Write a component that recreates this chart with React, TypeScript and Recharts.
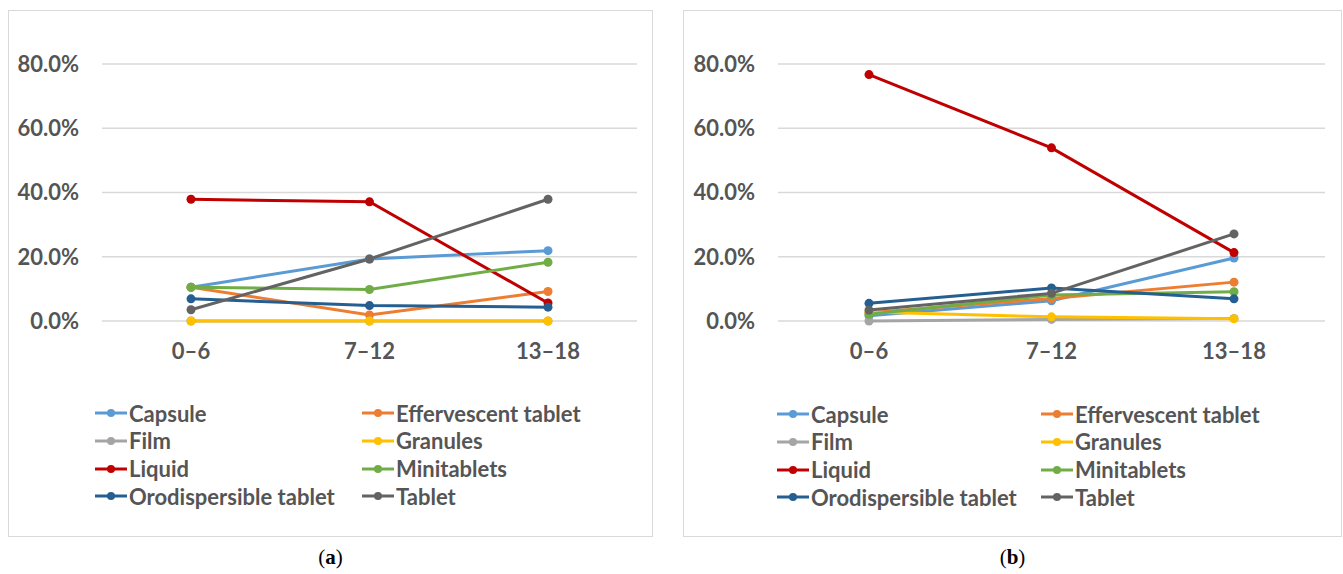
import React from 'react';
import { LineChart, Line, XAxis, YAxis, CartesianGrid } from 'recharts';

const categories = ['0–6', '7–12', '13–18'];
const yTicks = [0, 20, 40, 60, 80];

const seriesNames = [
  'Capsule',
  'Effervescent tablet',
  'Film',
  'Granules',
  'Liquid',
  'Minitablets',
  'Orodispersible tablet',
  'Tablet',
];
const seriesColors = ['#5B9BD5', '#ED7D31', '#A5A5A5', '#FFC000', '#C00000', '#70AD47', '#255E91', '#636363'];

// Panel (a)
const capsuleA = [10.5, 19.3, 21.9];
const effervescentA = [10.5, 1.9, 9.2];
const filmA = [0, 0, 0];
const granulesA = [0, 0, 0];
const liquidA = [37.9, 37.1, 5.6];
const minitabletsA = [10.5, 9.8, 18.3];
const orodispersibleA = [6.9, 4.8, 4.3];
const tabletA = [3.5, 19.3, 37.9];

// Panel (b)
const capsuleB = [1.6, 6.3, 19.6];
const effervescentB = [2.6, 7.0, 12.1];
const filmB = [0, 0.5, 0.8];
const granulesB = [2.8, 1.3, 0.7];
const liquidB = [76.7, 53.9, 21.3];
const minitabletsB = [2.1, 8.1, 9.1];
const orodispersibleB = [5.5, 10.3, 6.9];
const tabletB = [3.4, 8.6, 27.1];

const seriesA = [capsuleA, effervescentA, filmA, granulesA, liquidA, minitabletsA, orodispersibleA, tabletA];
const seriesB = [capsuleB, effervescentB, filmB, granulesB, liquidB, minitabletsB, orodispersibleB, tabletB];

const buildData = (series: number[][]) =>
  categories.map((c, i) => {
    const row: Record<string, number | string> = { cat: c };
    seriesNames.forEach((n, k) => {
      row[n] = series[k][i];
    });
    return row;
  });

const FONT = 'Lato, "Open Sans", sans-serif';
const TEXT = '#555555';
const FS = 22;

type PanelProps = {
  series: number[][];
  left: number;
  width: number;
  yWidth: number;
  rightMargin: number;
  padX: number;
  legendLeft: number;
  legendTop: number;
  legendCol: number;
  label: string;
};

const Panel = ({ series, left, width, yWidth, rightMargin, padX, legendLeft, legendTop, legendCol, label }: PanelProps) => {
  const data = buildData(series);
  const top = 10;
  const height = 527;
  return (
    <>
      <div
        style={{
          position: 'absolute',
          left,
          top,
          width,
          height,
          boxSizing: 'border-box',
          border: '1.5px solid #d9d9d9',
          background: '#fff',
        }}
      />
      <div style={{ position: 'absolute', left, top }}>
        <LineChart width={width} height={height} data={data} margin={{ top: 54, right: rightMargin, left: 0, bottom: 186 }}>
          <CartesianGrid vertical={false} stroke="#d9d9d9" strokeWidth={1.5} />
          <XAxis
            dataKey="cat"
            axisLine={false}
            tickLine={false}
            tickSize={0}
            tickMargin={22}
            padding={{ left: padX, right: padX }}
            tick={{ fill: TEXT, fontSize: FS, fontWeight: 700, fontFamily: FONT }}
            interval={0}
          />
          <YAxis
            domain={[0, 80]}
            ticks={yTicks}
            width={yWidth}
            axisLine={false}
            tickLine={false}
            tickSize={0}
            tickMargin={23}
            tickFormatter={(v: number) => `${v.toFixed(1)}%`}
            tick={{ fill: TEXT, fontSize: FS, fontWeight: 700, fontFamily: FONT }}
          />
          {seriesNames.map((n, k) => (
            <Line
              key={n}
              type="linear"
              dataKey={n}
              stroke={seriesColors[k]}
              strokeWidth={3}
              dot={{ r: 4.5, fill: seriesColors[k], stroke: seriesColors[k], strokeWidth: 0 }}
              activeDot={false}
              isAnimationActive={false}
            />
          ))}
        </LineChart>
      </div>
      {seriesNames.map((n, k) => {
        const col = k % 2;
        const row = Math.floor(k / 2);
        return (
          <div
            key={n}
            style={{
              position: 'absolute',
              left: legendLeft + col * legendCol,
              top: legendTop + row * 27.8 - 14,
              height: 28,
              display: 'flex',
              alignItems: 'center',
              fontFamily: FONT,
              fontWeight: 700,
              fontSize: FS,
              color: TEXT,
              whiteSpace: 'nowrap',
            }}
          >
            <svg width={33} height={12} style={{ marginRight: 1 }}>
              <line x1={0} y1={6} x2={32} y2={6} stroke={seriesColors[k]} strokeWidth={3} />
              <circle cx={16} cy={6} r={4} fill={seriesColors[k]} />
            </svg>
            <span>{n}</span>
          </div>
        );
      })}
      <div
        style={{
          position: 'absolute',
          left,
          width,
          top: 545,
          textAlign: 'center',
          fontFamily: '"Liberation Serif", "DejaVu Serif", serif',
          fontSize: 21,
          color: '#000',
        }}
      >
        (<b>{label}</b>)
      </div>
    </>
  );
};

export default function App() {
  return (
    <div style={{ position: 'absolute', left: 0, top: 0, width: 1343, height: 574, background: '#fff' }}>
      <Panel
        series={seriesA}
        left={8}
        width={645}
        yWidth={94}
        rightMargin={16}
        padX={89}
        legendLeft={95}
        legendTop={413}
        legendCol={267}
        label="a"
      />
      <Panel
        series={seriesB}
        left={683}
        width={659}
        yWidth={95}
        rightMargin={17}
        padX={91}
        legendLeft={777}
        legendTop={414}
        legendCol={264}
        label="b"
      />
    </div>
  );
}
